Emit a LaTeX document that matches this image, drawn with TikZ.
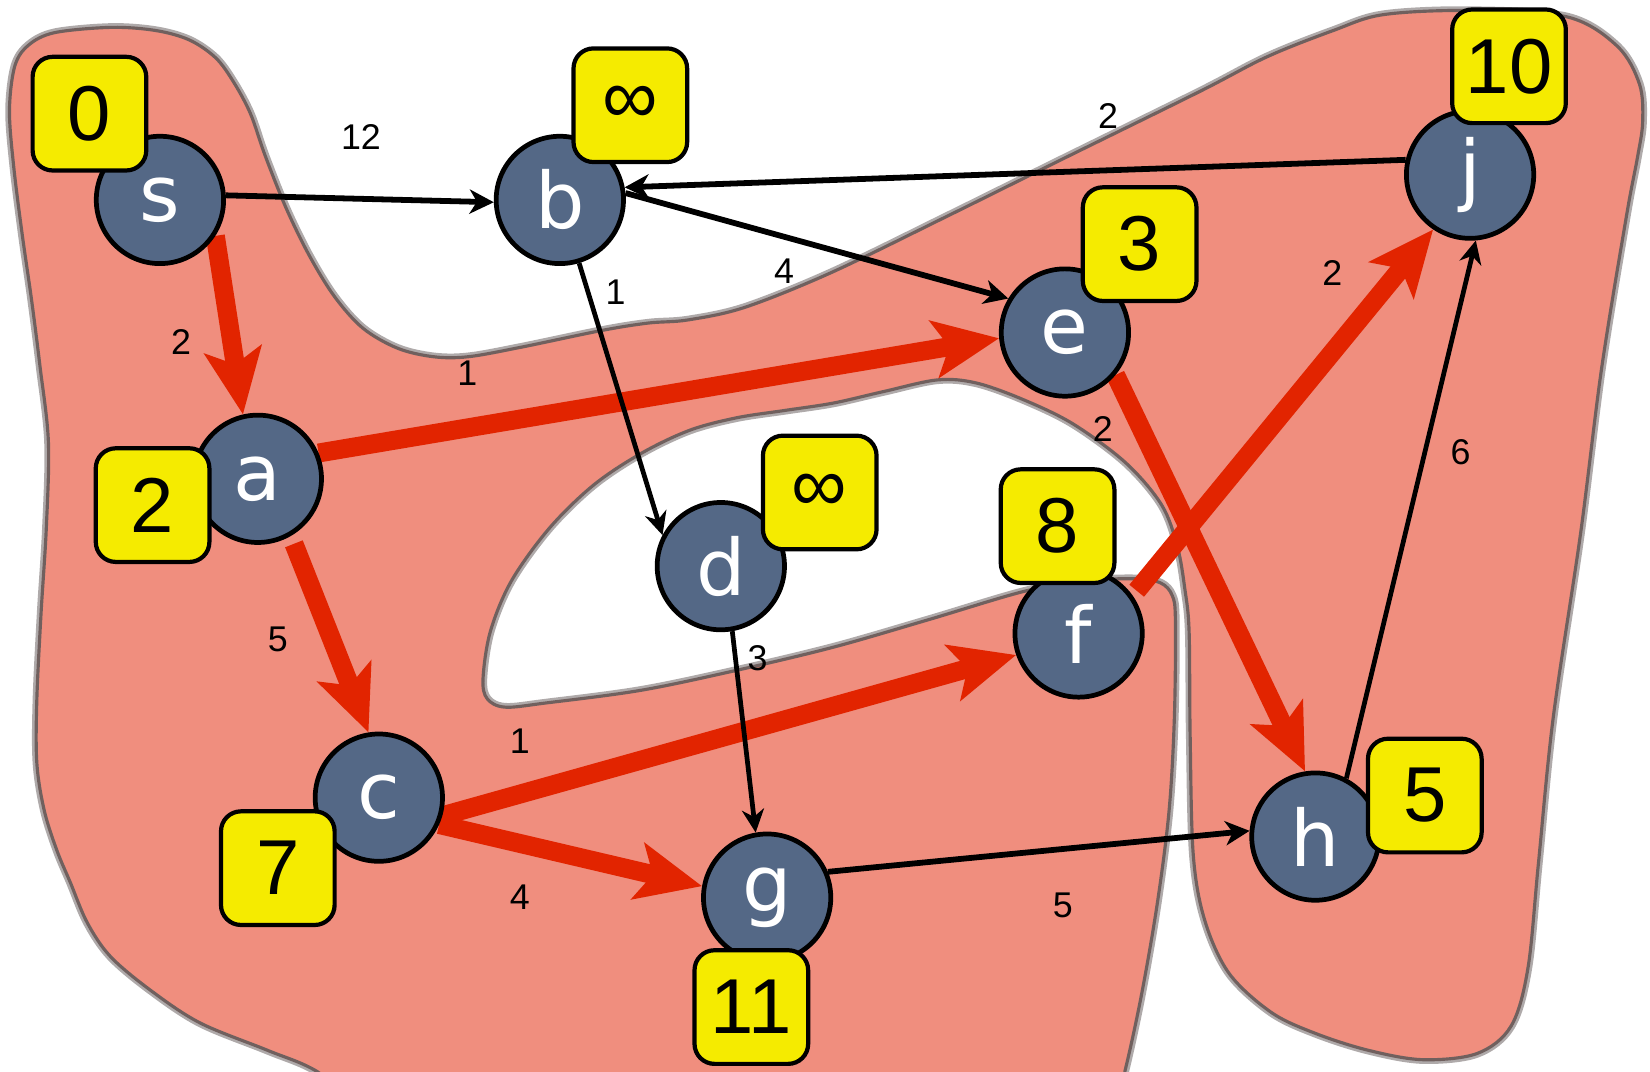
\documentclass[tikz,border=0pt]{standalone}
\usepackage{fontspec}
\setmainfont{Liberation Sans}
\newfontfamily\letterfont{DejaVu Sans}
\usetikzlibrary{arrows.meta}

\definecolor{blobfill}{RGB}{240,142,126}
\definecolor{blobline}{RGB}{112,96,94}
\definecolor{blobhalo}{RGB}{175,170,170}
\definecolor{vertexfill}{RGB}{84,104,134}
\definecolor{tagfill}{RGB}{245,235,0}
\definecolor{treered}{RGB}{226,36,0}

\pgfdeclarelayer{regionlayer}
\pgfdeclarelayer{edgelayer}
\pgfsetlayers{regionlayer,edgelayer,main}

\tikzset{
  vtx/.style={circle, fill=vertexfill, draw=black, line width=4.5pt,
    minimum size=121pt, inner sep=0pt, text=white,
    font=\letterfont\fontsize{74}{74}\selectfont},
  dist/.style={rectangle, rounded corners=19pt, fill=tagfill, draw=black,
    line width=4pt, minimum width=108pt, minimum height=108pt, inner sep=0pt,
    font=\fontsize{74}{74}\selectfont},
  wt/.style={font=\fontsize{34}{34}\selectfont, inner sep=0pt},
  plainedge/.style={draw=black, line width=5.5pt,
    -{Stealth[length=23pt,width=23pt,inset=7pt]}},
  slimedge/.style={draw=black, line width=4.5pt,
    -{Stealth[length=22pt,width=21pt,inset=7pt]}},
  treeedge/.style={draw=treered, line width=18pt,
    -{Stealth[length=62pt,width=54pt,inset=14pt]}},
}

\begin{document}
\begin{tikzpicture}[x=1pt,y=-1pt]
\useasboundingbox (0,0) rectangle (1568,1018);
\clip (0,0) rectangle (1568,1018);

% shaded region of settled vertices
\begin{pgfonlayer}{regionlayer}
\def\regionpath{plot[smooth cycle, tension=0.55] coordinates {
 (301,1018) (254,998) (190,972) (143,941) (105,909) (83,877) (67,839)
 (54,808) (42,770) (35,725)
 (35,665) (39,583) (44,502) (46,420) (38,348) (30,285) (21,222) (13,158)
 (9,105) (14,63) (27,43) (52,31) (106,26) (148,29) (180,38) (205,55)
 (222,78) (238,108) (252,148) (272,198) (294,243) (318,282) (345,312)
 (378,331) (412,339) (445,339) (495,330) (572,314) (616,307) (654,304)
 (708,292) (790,259) (899,206) (1008,152) (1140,87) (1204,54) (1267,29)
 (1314,14) (1394,10) (1489,16) (1537,44) (1558,80) (1561,116) (1556,150)
 (1546,203) (1522,350) (1502,507) (1476,682) (1462,820) (1452,920)
 (1436,975) (1404,1001) (1352,1007) (1300,998) (1250,982) (1208,962)
 (1168,925) (1145,875) (1134,813) (1131,700) (1130,600) (1126,560)
 (1119,520) (1104,480) (1070,440) (1020,403) (973,380) (928,364)
 (891,361) (840,372) (792,383) (746,390) (700,397) (655,409) (609,431)
 (564,461) (522,502) (486,552) (466,600) (459,645) (463,664) (480,672)
 (519,668) (609,656) (700,637) (792,615) (882,589) (973,562) (1030,552)
 (1080,550) (1103,554) (1114,566) (1117,590) (1116,682) (1111,770)
 (1100,857) (1085,944) (1069,1018) (1052,1080) (700,1110) (360,1060)}}
\draw[blobhalo, line width=8pt] \regionpath;
\fill[blobfill] \regionpath;
\draw[blobline, line width=3pt] \regionpath;
\end{pgfonlayer}

% vertices
\node[vtx] (s) at (152,190) {s};
\node[vtx] (b) at (532,190) {b};
\node[vtx] (a) at (245,455) {a};
\node[vtx] (e) at (1012,316) {e};
\node[vtx] (j) at (1397,166) {j};
\node[vtx] (d) at (685,538) {d};
\node[vtx] (f) at (1025,602) {f};
\node[vtx] (c) at (360,758) {c};
\node[vtx] (g) at (729,853) {g};
\node[vtx] (h) at (1250,795) {h};

% distance tags
\node[dist] (ds) at (85,108) {0};
\node[dist] (db) at (599,100) {∞};
\node[dist] (da) at (145,480) {2};
\node[dist] (de) at (1083,232) {3};
\node[dist] (dj) at (1434,63) {10};
\node[dist] (dd) at (779,468) {∞};
\node[dist] (df) at (1005,500) {8};
\node[dist] (dc) at (264,825) {7};
\node[dist] (dg) at (714,957) {11};
\node[dist] (dh) at (1354,756) {5};

% edges
\begin{pgfonlayer}{edgelayer}
\draw[treeedge] (s.-33) -- (a.103);
\draw[treeedge, shorten <=8pt] (a.-60) -- (c.99);
\draw[treeedge] (a.23) -- (e.185);
\draw[treeedge] (c.-16) -- (f.199);
\draw[treeedge] (c.-24) -- (g.170);
\draw[treeedge, shorten <=6pt] (f.35) -- (j.-124);
\draw[treeedge] (e.-40) -- (h.99);

\draw[plainedge] (s.4) -- (b.182);
\draw[plainedge] (j.167) -- (b.11);
\draw[plainedge] (b.6) -- (e.149);
\draw[slimedge] (b.-73) -- (d.152);
\draw[slimedge] (d.-80) -- (g.100);
\draw[plainedge] (g.23) -- (h.175);
\draw[slimedge] (h.62) -- (j.-85);
\end{pgfonlayer}

% edge weights
\node[wt] (w1) at (343,130) {12};
\node[wt] (w2) at (1053,110) {2};
\node[wt] (w3) at (745,258) {4};
\node[wt] (w4) at (585,278) {1};
\node[wt] (w5) at (720,625) {3};
\node[wt] (w6) at (1010,860) {5};
\node[wt] (w7) at (1388,430) {6};
\node[wt] (w8) at (172,325) {2};
\node[wt] (w9) at (444,355) {1};
\node[wt] (w10) at (264,608) {5};
\node[wt] (w11) at (494,704) {1};
\node[wt] (w12) at (494,853) {4};
\node[wt] (w13) at (1048,408) {2};
\node[wt] (w14) at (1266,259) {2};
\end{tikzpicture}
\end{document}
